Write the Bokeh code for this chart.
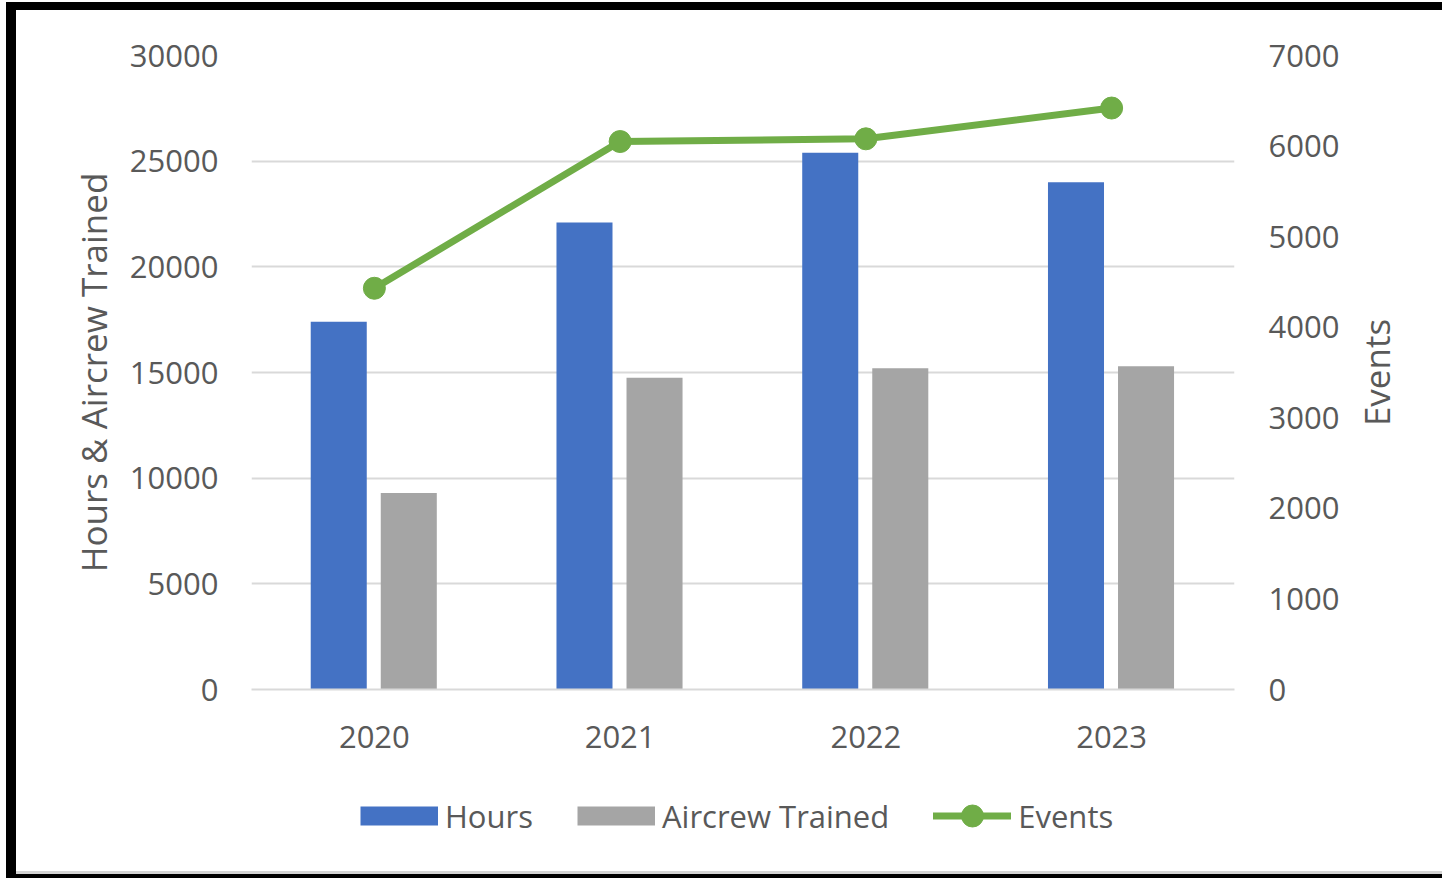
from bokeh.plotting import figure
from bokeh.layouts import column, row
from bokeh.models import (ColumnDataSource, Range1d, LinearAxis, SingleIntervalTicker, FixedTicker,
                          Legend, LegendItem, FactorRange)
from bokeh.transform import dodge
from bokeh.embed import file_html
from bokeh.resources import INLINE

years = ["2020", "2021", "2022", "2023"]
hours = [17400, 22100, 25400, 24000]
aircrew_trained = [9300, 14750, 15200, 15300]
events = [4430, 6050, 6080, 6420]
series_names = ["Hours", "Aircrew Trained", "Events"]
left_title = "Hours & Aircrew Trained"
right_title = "Events"

left_ticks_interval = 5000
right_ticks_interval = 1000

BLUE = "#4472c4"
GRAY = "#a5a5a5"
GREEN = "#70ad47"
TEXT = "#595959"
GRID = "#d9d9d9"
FONT = "Open Sans"

src = ColumnDataSource(dict(year=years, hours=hours, aircrew=aircrew_trained, events=events))

p = figure(x_range=FactorRange(*years), y_range=Range1d(0, 30000),
           width=1330, height=760, output_backend="svg", toolbar_location=None,
           min_border_left=235, min_border_right=112, min_border_top=45, min_border_bottom=81)
p.margin = (10, 0, 0, 16)
p.extra_y_ranges = {"events": Range1d(0, 7000)}
p.outline_line_color = None
p.background_fill_color = "white"
p.border_fill_color = "white"

b1 = p.vbar(x=dodge("year", -0.145, range=p.x_range), top="hours", width=0.228,
            source=src, fill_color=BLUE, line_color=None)
b2 = p.vbar(x=dodge("year", 0.14, range=p.x_range), top="aircrew", width=0.228,
            source=src, fill_color=GRAY, line_color=None)
ln = p.line(x="year", y="events", source=src, y_range_name="events",
            line_color=GREEN, line_width=7)
sc = p.scatter(x="year", y="events", source=src, y_range_name="events",
               size=22, fill_color=GREEN, line_color=GREEN)

ya = p.yaxis[0]
ya.ticker = SingleIntervalTicker(interval=left_ticks_interval)
ya.axis_label = left_title

ra = LinearAxis(y_range_name="events", ticker=SingleIntervalTicker(interval=right_ticks_interval))
p.add_layout(ra, "right")

for ax in [ya, ra]:
    ax.axis_line_color = None
    ax.major_tick_line_color = None
    ax.minor_tick_line_color = None
    ax.major_label_text_font = FONT
    ax.major_label_text_font_size = "31px"
    ax.major_label_text_color = TEXT
    ax.axis_label_text_font = FONT
    ax.axis_label_text_font_size = "35px"
    ax.axis_label_text_font_style = "normal"
    ax.axis_label_text_color = TEXT
ya.major_label_standoff = 27
ra.major_label_standoff = 28
ya.axis_label_standoff = 10

xa = p.xaxis[0]
xa.axis_line_color = GRID
xa.axis_line_width = 2
xa.major_tick_line_color = None
xa.minor_tick_line_color = None
xa.major_label_text_font = FONT
xa.major_label_text_font_size = "31px"
xa.major_label_text_color = TEXT
xa.major_label_standoff = 30

p.xgrid.grid_line_color = None
p.ygrid.grid_line_color = GRID
p.ygrid.grid_line_width = 2
p.ygrid.ticker = SingleIntervalTicker(interval=left_ticks_interval)

# narrow strip on the right carrying the secondary-axis title (reads bottom-to-top like the reference)
side = figure(width=96, height=760, x_range=Range1d(0, 1), y_range=Range1d(0, 7000),
              output_backend="svg", toolbar_location=None,
              min_border_left=68, min_border_right=0, min_border_top=45, min_border_bottom=81)
side.margin = (10, 0, 0, 0)
side.xaxis.visible = False
side.grid.visible = False
side.outline_line_color = None
side.border_fill_color = "white"
sa = side.yaxis[0]
sa.ticker = FixedTicker(ticks=[])
sa.axis_line_color = None
sa.major_tick_line_color = None
sa.minor_tick_line_color = None
sa.major_tick_out = 0
sa.major_label_standoff = 0
sa.axis_label = right_title
sa.axis_label_text_font = FONT
sa.axis_label_text_font_size = "35px"
sa.axis_label_text_font_style = "normal"
sa.axis_label_text_color = TEXT
sa.axis_label_standoff = 15

# legend strip: proxy renderers (their data lies outside this strip's ranges, so only legend glyphs show)
lg = figure(width=1426, height=100, x_range=FactorRange(*years), y_range=Range1d(-2, -1),
            output_backend="svg", toolbar_location=None,
            min_border_left=235, min_border_right=0, min_border_top=0, min_border_bottom=0)
lg.margin = (0, 0, 8, 16)
lg.axis.visible = False
lg.grid.visible = False
lg.outline_line_color = None
lg.border_fill_color = "white"
r_h = lg.line(x="year", y="hours", source=src, line_color=BLUE, line_width=19, line_cap="butt")
r_a = lg.line(x="year", y="aircrew", source=src, line_color=GRAY, line_width=19, line_cap="butt")
r_el = lg.line(x="year", y="events", source=src, line_color=GREEN, line_width=7, line_cap="round")
r_es = lg.scatter(x="year", y="events", source=src, fill_color=GREEN, line_color=GREEN)

legend = Legend(items=[LegendItem(label=series_names[0], renderers=[r_h]),
                       LegendItem(label=series_names[1], renderers=[r_a]),
                       LegendItem(label=series_names[2], renderers=[r_el, r_es])],
                orientation="horizontal", location=(109, 27),
                glyph_width=78, glyph_height=55, label_standoff=7, spacing=44,
                padding=0, margin=0, border_line_color=None, background_fill_alpha=0,
                label_text_font=FONT, label_text_font_size="31px", label_text_color=TEXT)
lg.add_layout(legend, "center")

layout = column(row(p, side, spacing=0), lg, spacing=0)
layout.styles = {"background": ("linear-gradient(black, black) 6px 2px / 1436px 8px no-repeat, "
                                "linear-gradient(black, black) 6px 2px / 10px 876px no-repeat, "
                                "linear-gradient(#d4d4d4, #d4d4d4) 16px 871px / 1426px 3px no-repeat, "
                                "linear-gradient(black, black) 6px 874px / 1436px 4px no-repeat, white")}

open("out.html", "w").write(file_html(layout, INLINE))
